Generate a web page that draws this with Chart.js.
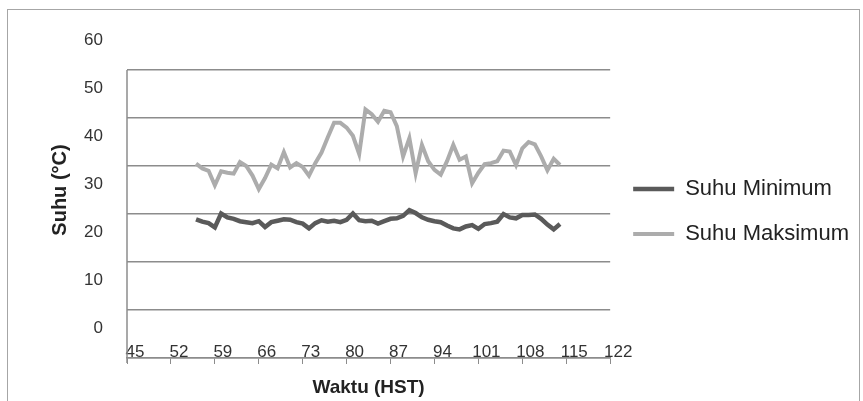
<!DOCTYPE html>
<html>
<head>
<meta charset="utf-8">
<script src="https://cdn.jsdelivr.net/npm/chart.js@4.4.1/dist/chart.umd.min.js"></script>
<style>
    body { margin: 0; background: #fff; }
    #wrap { position: relative; width: 863px; height: 401px; overflow: hidden; background: #fff; }
    #frame { position: absolute; left: 7px; top: 9px; width: 851px; height: 420px; border: 1px solid #a6a6a6; }
    #chart { position: absolute; left: 0; top: 0; }
</style>
</head>
<body>
<div id="wrap">
    <div id="frame"></div>
    <canvas id="chart" width="863" height="401"></canvas>
</div>
<script>
    // hari setelah tanam (HST)
    const days = [56, 57, 58, 59, 60, 61, 62, 63, 64, 65, 66, 67, 68, 69, 70, 71, 72, 73, 74, 75,
        76, 77, 78, 79, 80, 81, 82, 83, 84, 85, 86, 87, 88, 89, 90, 91, 92, 93, 94, 95,
        96, 97, 98, 99, 100, 101, 102, 103, 104, 105, 106, 107, 108, 109, 110, 111, 112, 113, 114];

    const suhuMinimum = [18.9, 18.4, 18.1, 17.2, 20.1, 19.3, 19.0, 18.5, 18.3, 18.1, 18.5, 17.3, 18.3, 18.6, 18.9, 18.8, 18.3, 18.0, 17.0, 18.1,
        18.7, 18.4, 18.6, 18.3, 18.8, 20.1, 18.7, 18.5, 18.6, 18.0, 18.5, 19.0, 19.1, 19.6, 20.8, 20.2, 19.3, 18.8, 18.5, 18.3,
        17.6, 17.0, 16.8, 17.4, 17.7, 16.9, 17.9, 18.1, 18.4, 20.0, 19.3, 19.1, 19.8, 19.8, 19.9, 19.0, 17.8, 16.8, 17.9];

    const suhuMaksimum = [30.5, 29.5, 29.0, 26.0, 28.9, 28.6, 28.4, 30.8, 30.0, 28.0, 25.2, 27.5, 30.3, 29.5, 32.9, 29.7, 30.6, 29.8, 28.0, 30.6,
        32.8, 36.0, 39.0, 39.0, 38.0, 36.3, 32.5, 41.8, 40.8, 39.2, 41.5, 41.2, 38.3, 32.0, 35.8, 28.5, 34.4, 31.0, 29.2, 28.2,
        31.0, 34.4, 31.3, 32.0, 26.4, 28.6, 30.4, 30.6, 31.0, 33.2, 33.0, 30.2, 33.7, 35.0, 34.5, 32.0, 29.1, 31.5, 30.2];

    const xTicks = [45, 52, 59, 66, 73, 80, 87, 94, 101, 108, 115, 122];
    const yTicks = [0, 10, 20, 30, 40, 50, 60];

    const font = "'Liberation Sans', Arial, sans-serif";

    // padding kiri negatif supaya legenda boleh lebih lebar dari 1/4 kanvas
    const padLeft = -200;
    const axisLeft = 127;

    function toPoints(values) {
        return days.map(function (d, i) { return { x: d, y: values[i] }; });
    }

    // garis sumbu Y hanya dari gridline teratas sampai sumbu X
    const yAxisLine = {
        id: 'yAxisLine',
        beforeDatasetsDraw(chart) {
            const y = chart.scales.y;
            const ctx = chart.ctx;
            ctx.save();
            ctx.strokeStyle = '#8c8c8c';
            ctx.lineWidth = 1.5;
            ctx.beginPath();
            ctx.moveTo(chart.chartArea.left, y.getPixelForValue(50));
            ctx.lineTo(chart.chartArea.left, chart.chartArea.bottom + 5);
            ctx.stroke();
            ctx.restore();
        }
    };

    new Chart(document.getElementById('chart'), {
        type: 'line',
        data: {
            datasets: [
                {
                    label: 'Suhu Minimum',
                    data: toPoints(suhuMinimum),
                    borderColor: '#5a5a5a',
                    backgroundColor: '#5a5a5a',
                    borderWidth: 4.5,
                    pointRadius: 0,
                    tension: 0
                },
                {
                    label: 'Suhu Maksimum',
                    data: toPoints(suhuMaksimum),
                    borderColor: '#acacac',
                    backgroundColor: '#acacac',
                    borderWidth: 4,
                    pointRadius: 0,
                    tension: 0
                }
            ]
        },
        options: {
            responsive: false,
            animation: false,
            layout: { padding: { top: 22, right: 4, bottom: 0, left: padLeft } },
            plugins: {
                tooltip: { enabled: false },
                legend: {
                    position: 'right',
                    labels: {
                        boxWidth: 41,
                        boxHeight: 0,
                        padding: 23,
                        color: '#222',
                        font: { family: font, size: 22 }
                    }
                }
            },
            scales: {
                x: {
                    type: 'linear',
                    min: 45,
                    max: 122,
                    afterBuildTicks: function (scale) {
                        scale.ticks = xTicks.map(function (v) { return { value: v }; });
                    },
                    afterFit: function (scale) {
                        scale.height = 43;
                        scale.paddingLeft = 0;
                        scale.paddingRight = 0;
                    },
                    grid: { display: true, drawOnChartArea: false, drawTicks: true, tickLength: 6, color: '#8c8c8c' },
                    border: { display: true, color: '#8c8c8c', width: 1.5 },
                    ticks: {
                        mirror: true,
                        padding: -5,
                        labelOffset: 8,
                        maxRotation: 0,
                        autoSkip: false,
                        color: '#333',
                        font: { family: font, size: 17 },
                        callback: function (v) { return String(v); }
                    },
                    title: {
                        display: true,
                        text: 'Waktu (HST)',
                        color: '#222',
                        padding: { top: 2, bottom: 2 },
                        font: { family: font, size: 19, weight: 'bold' }
                    }
                },
                y: {
                    min: -10,
                    max: 60,
                    afterBuildTicks: function (scale) {
                        scale.ticks = [-10].concat(yTicks).map(function (v) { return { value: v }; });
                    },
                    afterFit: function (scale) {
                        scale.width = axisLeft - padLeft;
                        scale.paddingTop = 0;
                        scale.paddingBottom = 0;
                    },
                    grid: {
                        drawTicks: false,
                        lineWidth: 1.5,
                        color: function (ctx) {
                            return ctx.tick && ctx.tick.value === 60 ? 'rgba(0,0,0,0)' : '#8c8c8c';
                        }
                    },
                    border: { display: false },
                    ticks: {
                        padding: 24,
                        labelOffset: 18,
                        color: '#333',
                        font: { family: font, size: 17 },
                        callback: function (v) { return v < 0 ? '' : v; }
                    },
                    title: {
                        display: true,
                        text: 'Suhu (°C)',
                        color: '#222',
                        padding: { top: 60 - padLeft - 12, bottom: 0 },
                        font: { family: font, size: 20, weight: 'bold' }
                    }
                }
            }
        },
        plugins: [yAxisLine]
    });
</script>
</body>
</html>
